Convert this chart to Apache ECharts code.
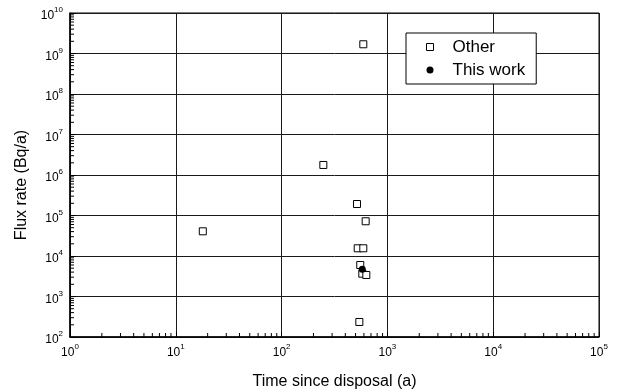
<!DOCTYPE html>
<html>
<head>
<meta charset="utf-8">
<script src="https://cdn.jsdelivr.net/npm/echarts@6/dist/echarts.min.js"></script>
<style>html,body{margin:0;padding:0;background:#fff}#c{width:620px;height:392px}</style>
</head>
<body>
<div id="c"></div>
<script>
// Data
const otherX = [592, 248, 18, 516, 623, 524, 592, 554, 579, 632, 543];
const otherY = [1.69e9, 1.77e6, 4.07e4, 1.92e5, 7.2e4, 1.55e4, 1.55e4, 6.0e3, 3.66e3, 3.4e3, 235];
const thisX = [579];
const thisY = [4.7e3];
const seriesNames = ['Other', 'This work'];
const xTitle = 'Time since disposal (a)';
const yTitle = 'Flux rate (Bq/a)';
const xTickExponents = ['0', '1', '2', '3', '4', '5'];
const yTickExponents = ['2', '3', '4', '5', '6', '7', '8', '9', '10'];
const xMin = 1, xMax = 1e5, yMin = 1e2, yMax = 1e10;

// minor tick positions (2..9 within each decade)
const xMinor = [];
for (let e = 0; e < 5; e++) for (let k = 2; k <= 9; k++) xMinor.push([k * Math.pow(10, e), yMin]);
const yMinor = [];
for (let e = 2; e < 10; e++) for (let k = 2; k <= 9; k++) yMinor.push([xMin, k * Math.pow(10, e)]);

const FONT = 'Liberation Sans, Arial, sans-serif';
function fmt(list, base) {
  return function (v) {
    const idx = Math.round(Math.log10(v)) - base;
    return '{b|10}{s|' + list[idx] + '}';
  };
}
const rich = {
  b: { fontSize: 12, fontFamily: FONT, color: '#000', padding: [6, 0, 0, 0] },
  s: { fontSize: 8, fontFamily: FONT, color: '#000', padding: [0, 0, 6, 0] }
};

const chart = echarts.init(document.getElementById('c'), null, { renderer: 'canvas' });
chart.setOption({
  animation: false,
  backgroundColor: '#fff',
  grid: { left: 70, right: 21, top: 13, bottom: 55, outerBoundsMode: 'none', containLabel: false, show: true, borderColor: '#000', borderWidth: 1, backgroundColor: 'transparent' },
  legend: {
    orient: 'vertical', left: 406, top: 33,
    padding: [5, 11, 5, 20],
    itemGap: 5, itemWidth: 7, itemHeight: 7,
    backgroundColor: '#fff', borderColor: '#000', borderWidth: 1,
    textStyle: { fontSize: 17, fontFamily: FONT, color: '#000', lineHeight: 18, padding: [0, 0, 0, 14] },
    data: [
      { name: seriesNames[0], icon: 'rect', itemStyle: { color: '#fff', borderColor: '#000', borderWidth: 1 } },
      { name: seriesNames[1], icon: 'circle', itemStyle: { color: '#000', borderWidth: 0 } }
    ]
  },
  xAxis: {
    type: 'log', logBase: 10, min: xMin, max: xMax, splitNumber: 5,
    name: xTitle, nameLocation: 'middle', nameGap: 37,
    nameTextStyle: { fontSize: 16, fontFamily: FONT, color: '#000' },
    axisLine: { show: true, lineStyle: { color: '#000', width: 1.5 } },
    axisTick: { show: true, inside: true, length: 5, lineStyle: { color: '#000' } },
    axisLabel: { formatter: fmt(xTickExponents, 0), rich: rich, margin: 4 },
    splitLine: { show: true, lineStyle: { color: '#1a1a1a', width: 1 } }
  },
  yAxis: {
    type: 'log', logBase: 10, min: yMin, max: yMax, splitNumber: 8,
    name: yTitle, nameLocation: 'middle', nameGap: 40,
    nameTextStyle: { fontSize: 16, fontFamily: FONT, color: '#000', padding: [0, 20, 0, 0] },
    axisLine: { show: true, lineStyle: { color: '#000', width: 1.5 } },
    axisTick: { show: true, inside: true, length: 6, lineStyle: { color: '#000' } },
    axisLabel: { formatter: fmt(yTickExponents, 2), rich: rich, margin: 7, align: 'right' },
    splitLine: { show: true, lineStyle: { color: '#1a1a1a', width: 1 } }
  },
  series: [
    {
      type: 'custom', silent: true, clip: false, z: 5,
      data: xMinor,
      renderItem: function (params, api) {
        const p = api.coord([api.value(0), api.value(1)]);
        return { type: 'line', shape: { x1: p[0], y1: p[1], x2: p[0], y2: p[1] - 4 }, style: { stroke: '#000', lineWidth: 1 } };
      }
    },
    {
      type: 'custom', silent: true, clip: false, z: 5,
      data: yMinor,
      renderItem: function (params, api) {
        const p = api.coord([api.value(0), api.value(1)]);
        return { type: 'line', shape: { x1: p[0], y1: p[1], x2: p[0] + 4, y2: p[1] }, style: { stroke: '#000', lineWidth: 1 } };
      }
    },
    {
      name: seriesNames[0], type: 'scatter', symbol: 'rect', symbolSize: 7, z: 10,
      itemStyle: { color: '#fff', borderColor: '#000', borderWidth: 1, opacity: 1 },
      data: otherX.map((x, i) => [x, otherY[i]])
    },
    {
      name: seriesNames[1], type: 'scatter', symbol: 'circle', symbolSize: 7, z: 11,
      itemStyle: { color: '#000', borderWidth: 0, opacity: 1 },
      data: thisX.map((x, i) => [x, thisY[i]])
    }
  ]
});
</script>
</body>
</html>
